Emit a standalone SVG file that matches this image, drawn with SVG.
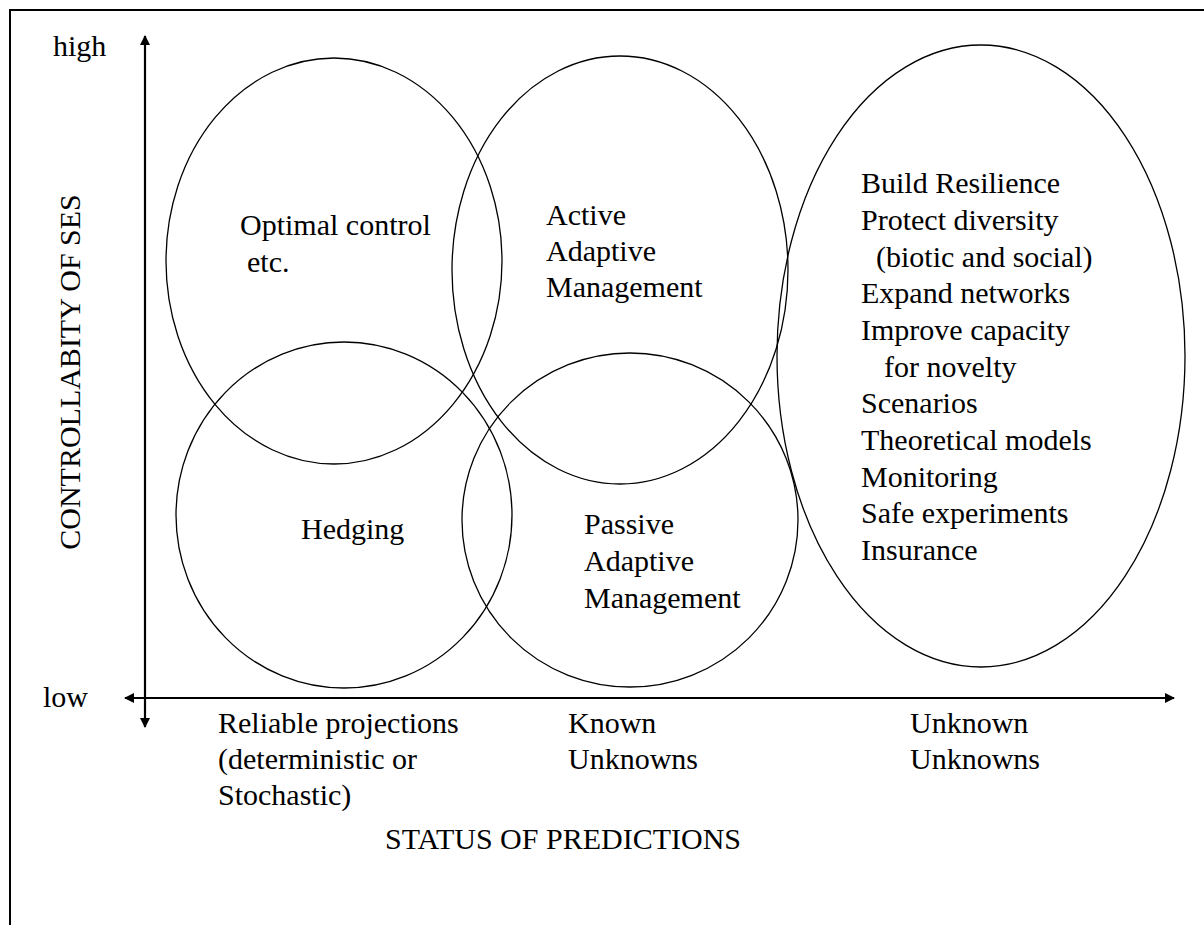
<svg xmlns="http://www.w3.org/2000/svg" width="1204" height="925" viewBox="0 0 1204 925">
  <style>
    text { font-family: "Liberation Serif", "Times New Roman", serif; font-size: 30px; fill: #000; }
    .region { fill: none; stroke: #000; stroke-width: 1.3; }
    .axis { fill: none; stroke: #000; stroke-width: 2.2; }
    .frame { fill: none; stroke: #000; stroke-width: 2; }
  </style>
  <defs>
    <marker id="head" viewBox="0 0 10 10" refX="9" refY="5" markerWidth="10" markerHeight="10" markerUnits="userSpaceOnUse" orient="auto-start-reverse">
      <path d="M0,0 L10,5 L0,10 Z" fill="#000"/>
    </marker>
  </defs>
  <rect width="1204" height="925" fill="#fff"/>

  <!-- outer frame (left and top edges) -->
  <path class="frame" d="M10,925 V10 H1204"/>

  <!-- management approaches -->
  <g id="optimal-control">
    <ellipse class="region" cx="334" cy="261" rx="168" ry="203"/>
    <text x="240" y="235">Optimal control</text>
    <text x="247" y="272">etc.</text>
  </g>
  <g id="active-adaptive">
    <ellipse class="region" cx="620" cy="270" rx="168" ry="214"/>
    <text x="546" y="225">Active</text>
    <text x="546" y="261">Adaptive</text>
    <text x="546" y="297">Management</text>
  </g>
  <g id="hedging">
    <ellipse class="region" cx="344" cy="515" rx="168" ry="173"/>
    <text x="301" y="539">Hedging</text>
  </g>
  <g id="passive-adaptive">
    <ellipse class="region" cx="630" cy="520" rx="168" ry="167"/>
    <text x="584" y="534">Passive</text>
    <text x="584" y="571">Adaptive</text>
    <text x="584" y="608">Management</text>
  </g>
  <g id="resilience">
    <ellipse class="region" cx="981" cy="356" rx="204" ry="311"/>
    <text x="861" y="193">Build Resilience</text>
    <text x="861" y="230">Protect diversity</text>
    <text x="876" y="267">(biotic and social)</text>
    <text x="861" y="303">Expand networks</text>
    <text x="861" y="340">Improve capacity</text>
    <text x="884" y="377">for novelty</text>
    <text x="861" y="413">Scenarios</text>
    <text x="861" y="450">Theoretical models</text>
    <text x="861" y="487">Monitoring</text>
    <text x="861" y="523">Safe experiments</text>
    <text x="861" y="560">Insurance</text>
  </g>

  <!-- axes -->
  <g id="axes">
    <line class="axis" x1="145" y1="727" x2="145" y2="36" marker-start="url(#head)" marker-end="url(#head)"/>
    <line class="axis" x1="125" y1="698" x2="1174" y2="698" marker-start="url(#head)" marker-end="url(#head)"/>
  </g>

  <!-- axis labels -->
  <g id="y-labels">
    <text x="53" y="56">high</text>
    <text x="43" y="707">low</text>
    <text transform="translate(80,372) rotate(-90)" text-anchor="middle">CONTROLLABITY OF SES</text>
  </g>
  <g id="x-labels">
    <text x="218" y="733">Reliable projections</text>
    <text x="218" y="769">(deterministic or</text>
    <text x="218" y="805">Stochastic)</text>
    <text x="568" y="733">Known</text>
    <text x="568" y="769">Unknowns</text>
    <text x="910" y="733">Unknown</text>
    <text x="910" y="769">Unknowns</text>
    <text x="385" y="849">STATUS OF PREDICTIONS</text>
  </g>
</svg>
